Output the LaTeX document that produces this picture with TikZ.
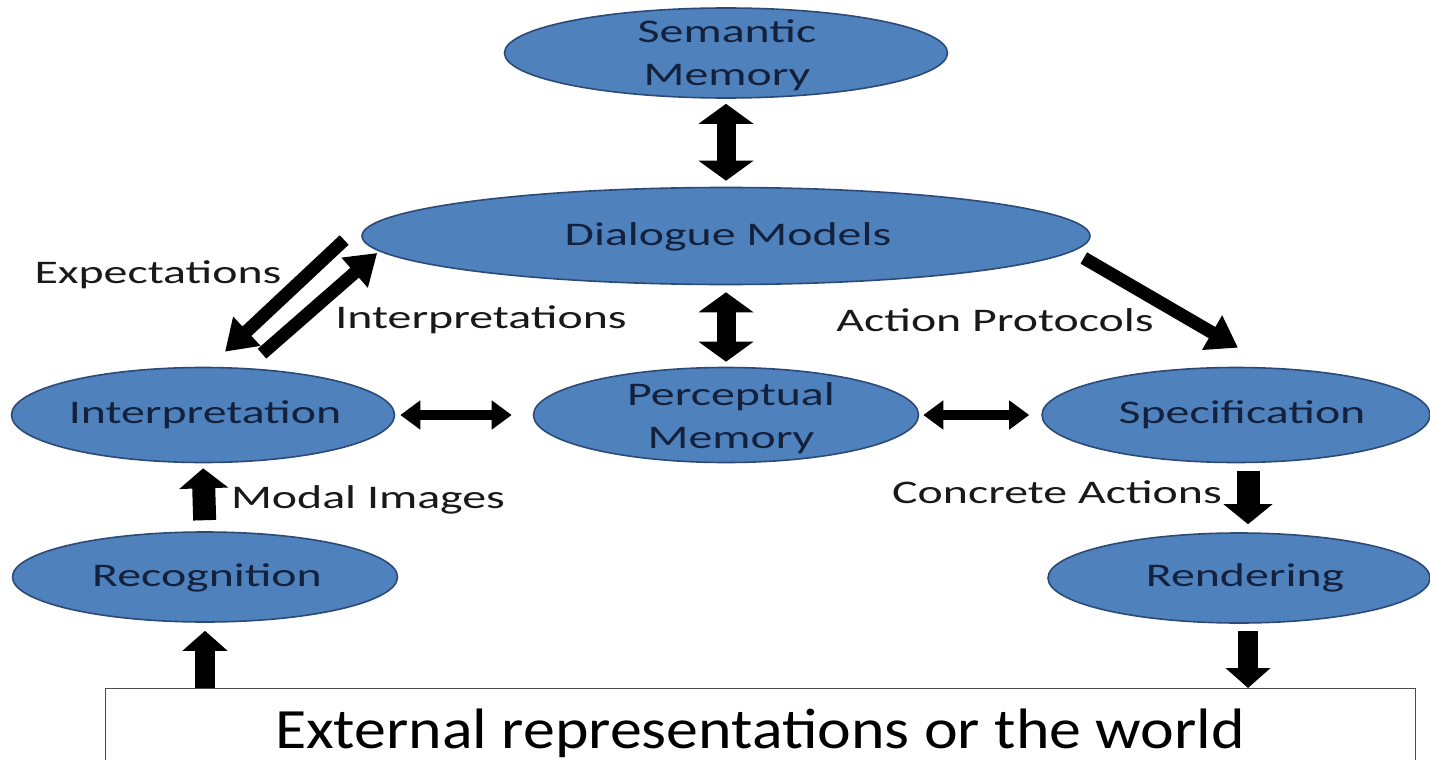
\documentclass[tikz,border=0pt]{standalone}
\usepackage{fontspec}
\setmainfont{Carlito}[FakeStretch=1.45]
\newfontfamily\worldfont{Carlito}[FakeStretch=1.12]
\usetikzlibrary{shapes.geometric,arrows.meta,calc}

\definecolor{ellfill}{HTML}{4F81BD}
\definecolor{elldraw}{HTML}{2C4A78}
\definecolor{elltext}{HTML}{14213D}

\begin{document}
\begin{tikzpicture}[x=1pt,y=-1pt,
  ell/.style={ellipse, draw=elldraw, line width=1.6pt, fill=ellfill, inner sep=0pt},
  etext/.style={text=elltext, font=\fontsize{33}{43}\selectfont, align=center, inner sep=0pt},
  lbl/.style={text=black!90, font=\fontsize{33}{43}\selectfont, inner sep=0pt},
  vdouble/.style={line width=19pt, {Triangle[length=20pt,width=54pt]}-{Triangle[length=20pt,width=54pt]}},
  hdouble/.style={line width=10pt, {Triangle[length=20pt,width=28pt]}-{Triangle[length=20pt,width=28pt]}},
  block/.style={line width=23pt, -{Triangle[length=20pt,width=48pt]}},
  blockb/.style={line width=20pt, -{Triangle[length=20pt,width=44pt]}},
  slant/.style={line width=13pt, -{Triangle[length=30pt,width=38pt]}},
]
\useasboundingbox (0,0) rectangle (1430,760);
\clip (0,0) rectangle (1430,760);
\fill[white] (0,0) rectangle (1430,760);

% memories and processing stages
\node[ell, minimum width=443pt, minimum height=90pt] (sem) at (726,53) {};
\node[etext] (semt) at (727,55) {Semantic\\Memory};
\node[ell, minimum width=728pt, minimum height=97pt] (dia) at (726,236) {};
\node[etext] (diat) at (728,237) {Dialogue Models};
\node[ell, minimum width=383pt, minimum height=95pt] (int) at (203,415) {};
\node[etext] (intt) at (205,415) {Interpretation};
\node[ell, minimum width=385pt, minimum height=95pt] (per) at (726,415) {};
\node[etext] (pert) at (731,418) {Perceptual\\Memory};
\node[ell, minimum width=388pt, minimum height=95pt] (spe) at (1236,415) {};
\node[etext] (spet) at (1242,415) {Specification};
\node[ell, minimum width=385pt, minimum height=90pt] (rec) at (205,577) {};
\node[etext] (rect) at (207,578) {Recognition};
\node[ell, minimum width=382pt, minimum height=90pt] (ren) at (1239,578) {};
\node[etext] (rent) at (1245,578) {Rendering};

% the outside world
\node[draw=black!70, line width=1.2pt, fill=white, minimum width=1310pt,
      minimum height=95pt, anchor=north west] (world) at (105,688) {};
\node[font=\worldfont\fontsize{57}{60}\selectfont, inner sep=0pt] (worldt) at (760,733)
  {External representations or the world};

% connectors
\draw[vdouble, shorten <=5pt, shorten >=6pt] (sem.south) -- (dia.north);
\draw[vdouble, shorten <=7pt, shorten >=5pt] (dia.south) -- (per.north);
\draw[hdouble, shorten <=5pt, shorten >=21pt] (int.east) -- (per.west);
\draw[hdouble, shorten <=4pt, shorten >=12pt] (per.east) -- (spe.west);

\coordinate (expS) at ($(dia.west)+(-17,4)$);
\coordinate (expE) at ($(int.north)+(22,-15)$);
\draw[slant] (expS) -- (expE);
\coordinate (itpS) at ($(int.north)+(59,-13)$);
\coordinate (itpE) at ($(dia.west)+(16,17)$);
\draw[slant] (itpS) -- (itpE);
\coordinate (actS) at ($(dia.east)+(-7,22)$);
\coordinate (actE) at ($(spe.north)+(2,-19)$);
\draw[slant] (actS) -- (actE);

\draw[block, shorten <=11pt, shorten >=5pt] (rec.north) -- (int.south);
\coordinate (spS) at ([xshift=12pt]spe.south);
\coordinate (rnN) at ([xshift=9pt]ren.north);
\draw[block, shorten <=8pt, shorten >=8pt] (spS) -- (spS |- rnN);
\coordinate (rnS) at ([xshift=9pt]ren.south);
\draw[blockb, shorten <=7pt] (rnS) -- (rnS |- world.north);
\draw[blockb, shorten >=8pt] (world.north -| rec) -- (rec.south);

% connector labels
\node[lbl] (lexp) at (158,275) {Expectations};
\node[lbl] (lint) at (481,320) {Interpretations};
\node[lbl] (lact) at (995,320) {Action Protocols};
\node[lbl] (lmod) at (368,500) {Modal Images};
\node[lbl] (lcon) at (1057,492) {Concrete Actions};
\end{tikzpicture}
\end{document}
